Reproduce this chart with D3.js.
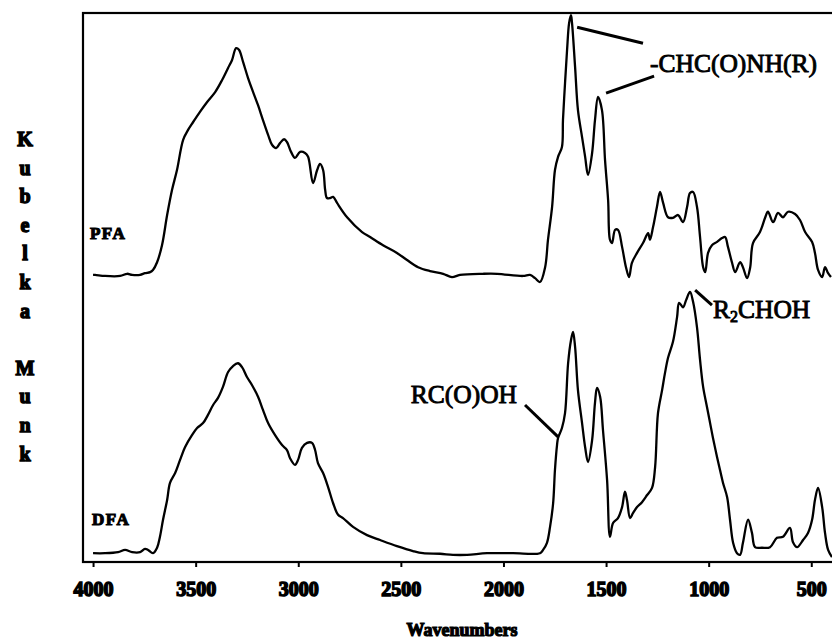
<!DOCTYPE html>
<html>
<head>
<meta charset="utf-8">
<script src="https://cdn.jsdelivr.net/npm/d3@7"></script>
<style>
  body { margin: 0; background: #fff; }
  svg { display: block; }
  .tick text { font-family: "Liberation Serif", serif; font-weight: bold; }
</style>
</head>
<body>
<div id="chart"></div>
<script>
// wavenumber (cm-1), Kubelka-Munk units (arbitrary, 0-100 of the frame)
var pfa = [
  [4000,52.3],[3990,52.3],[3942,52.1],[3868,52.1],[3834,52.5],[3810,52.3],[3771,52.3],[3747,52.6],[3722,52.8],
  [3708,53.2],[3688,54.6],[3664,57.7],[3639,63.2],[3615,67.8],[3591,71.4],[3561,76.9],[3537,78.7],
  [3513,80.1],[3479,82.0],[3444,83.8],[3405,85.6],[3371,87.8],[3342,90.0],[3323,91.4],[3303,93.6],
  [3289,93.3],[3269,91.1],[3245,88.2],[3220,85.6],[3196,83.2],[3172,80.5],[3147,77.8],[3128,76.0],
  [3108,75.4],[3089,76.3],[3069,77.0],[3055,76.5],[3035,74.7],[3016,73.6],[2991,74.7],[2967,74.5],
  [2952,73.8],[2928,69.0],[2908,71.4],[2894,72.5],[2879,71.4],[2869,67.8],[2860,66.3],[2845,66.3],
  [2830,66.5],[2811,65.4],[2762,62.8],[2689,60.1],[2650,59.2],[2587,57.7],[2519,56.3],[2470,55.0],
  [2416,53.7],[2358,53.0],[2294,52.5],[2251,51.9],[2212,52.3],[2100,52.5],[2031,52.5],[1905,52.1],
  [1871,52.3],[1846,51.7],[1822,51.0],[1797,53.7],[1783,58.7],[1763,64.7],[1749,71.4],[1734,73.8],
  [1715,75.6],[1710,80.5],[1700,87.2],[1690,93.3],[1680,98.2],[1671,99.6],[1666,98.2],[1651,90.2],
  [1637,82.3],[1617,77.4],[1602,73.8],[1588,70.5],[1568,74.5],[1554,80.5],[1539,84.7],[1520,82.3],
  [1505,73.2],[1490,65.9],[1481,58.7],[1471,58.1],[1456,60.5],[1442,60.5],[1422,57.4],[1403,53.7],
  [1388,51.9],[1374,54.5],[1349,56.3],[1320,58.1],[1295,59.9],[1286,58.7],[1271,61.0],[1252,64.7],
  [1237,67.4],[1222,65.4],[1198,62.8],[1174,62.7],[1149,63.2],[1125,61.9],[1105,64.7],[1091,67.2],
  [1076,67.4],[1057,64.7],[1042,59.2],[1027,53.7],[1017,52.8],[1003,56.3],[984,57.7],[959,58.3],
  [935,59.0],[920,59.2],[906,57.4],[886,54.5],[871,52.8],[847,54.6],[833,53.7],[813,51.7],
  [798,53.6],[784,58.1],[750,60.1],[725,62.7],[711,63.8],[686,61.9],[662,63.6],[638,62.8],
  [613,63.8],[579,63.4],[555,62.3],[530,60.1],[496,58.3],[482,56.3],[467,53.2],[447,51.9],
  [433,53.7],[418,52.6],[404,51.9]
];

var dfa = [
  [4000,1.6],[3942,1.6],[3878,1.8],[3844,2.2],[3810,1.8],[3771,1.8],[3747,2.4],[3732,2.2],
  [3708,1.6],[3688,2.6],[3674,4.6],[3659,7.7],[3639,11.3],[3625,14.4],[3600,16.2],[3576,18.6],
  [3552,20.9],[3518,23.1],[3493,24.4],[3464,25.3],[3440,26.8],[3415,28.6],[3391,29.9],[3367,31.9],
  [3342,34.6],[3318,35.7],[3294,36.2],[3274,35.5],[3250,33.7],[3225,32.2],[3196,30.1],[3172,27.7],
  [3147,25.3],[3113,23.1],[3079,21.3],[3055,20.4],[3040,18.9],[3016,17.7],[3001,18.6],[2982,20.8],
  [2957,21.7],[2933,21.7],[2918,20.4],[2904,18.0],[2879,16.2],[2855,13.7],[2830,10.7],[2806,8.6],
  [2782,8.0],[2733,6.4],[2665,4.9],[2601,4.0],[2519,2.9],[2441,2.0],[2392,1.6],[2309,1.5],
  [2246,1.3],[2177,1.3],[2080,1.6],[1953,1.6],[1822,1.6],[1807,2.2],[1788,3.5],[1773,6.4],
  [1758,10.7],[1749,16.8],[1739,21.3],[1734,22.6],[1715,24.4],[1700,27.1],[1685,36.2],[1671,40.4],
  [1661,41.9],[1651,39.2],[1637,31.3],[1617,25.3],[1602,20.9],[1588,18.2],[1568,22.2],[1554,29.0],
  [1544,31.7],[1529,30.1],[1515,24.0],[1495,14.9],[1481,4.6],[1466,7.1],[1442,8.0],[1422,10.0],
  [1408,12.8],[1398,11.3],[1383,8.0],[1369,8.9],[1349,10.0],[1325,10.9],[1300,12.2],[1276,13.5],
  [1261,17.3],[1247,27.1],[1227,31.3],[1213,34.4],[1198,37.2],[1174,40.1],[1154,44.6],[1144,47.2],
  [1125,46.4],[1110,47.7],[1091,49.2],[1076,47.4],[1057,42.8],[1042,36.8],[1027,31.9],[1008,28.2],
  [993,25.3],[979,22.6],[959,19.1],[945,16.8],[930,14.4],[910,11.8],[896,7.7],[881,3.5],
  [862,1.6],[847,1.3],[833,3.5],[808,7.7],[789,5.3],[774,2.7],[740,2.6],[701,2.7],
  [667,4.4],[638,4.6],[604,6.2],[589,3.6],[569,2.7],[540,4.0],[516,5.3],[496,7.7],
  [482,11.3],[467,13.5],[447,10.0],[433,5.3],[418,2.2],[399,0.9]
];

var xTicks = [4000, 3500, 3000, 2500, 2000, 1500, 1000, 500];
var yLetters = ["K", "u", "b", "e", "l", "k", "a", "", "M", "u", "n", "k"];

// sample labels [text, wavenumber, value]
var seriesLabels = [["PFA", 4015, 58.8], ["DFA", 4005, 6.7]];
// leader lines [w1, v1, w2, v2]
var leaders = [
  [1641, 97.4, 1320, 94.5],
  [1500, 85.4, 1266, 88.5],
  [1066, 49.5, 984, 46.8],
  [1895, 28.6, 1734, 22.8]
];

var margin = {top: 13, right: 0, bottom: 82, left: 83},
    width = 751,
    height = 549;

var x = d3.scaleLinear().domain([4049, 399]).range([0, 749]);
var y = d3.scaleLinear().domain([0, 100]).range([height, 0]);

var svg = d3.select("#chart")
    .append("svg")
    .attr("width", 832)
    .attr("height", 644)
    .append("g")
    .attr("transform", "translate(" + margin.left + "," + margin.top + ")");

// frame
svg.append("rect")
    .attr("x", 0).attr("y", 0)
    .attr("width", width).attr("height", height)
    .attr("fill", "none")
    .attr("stroke", "#000")
    .attr("stroke-width", 2.2);

var xAxis = d3.axisBottom(x)
    .tickValues(xTicks)
    .tickSize(5)
    .tickPadding(15)
    .tickFormat(d3.format("d"));

var gx = svg.append("g")
    .attr("class", "x axis")
    .attr("transform", "translate(0," + height + ")")
    .call(xAxis);
gx.select(".domain").remove();
gx.selectAll(".tick line").attr("stroke", "#000").attr("stroke-width", 2);
gx.selectAll(".tick text")
    .attr("font-size", 20)
    .attr("fill", "#000")
    .attr("stroke", "#000")
    .attr("stroke-width", 1.5);

svg.append("text")
    .attr("x", 462 - margin.left)
    .attr("y", 636 - margin.top)
    .attr("text-anchor", "middle")
    .attr("font-family", "Liberation Serif, serif")
    .attr("font-weight", "bold")
    .attr("font-size", 18)
    .attr("stroke", "#000")
    .attr("stroke-width", 1.2)
    .text("Wavenumbers");

// stacked y label
svg.append("g")
    .selectAll("text")
    .data(yLetters)
    .enter().append("text")
    .attr("x", 25 - margin.left)
    .attr("y", function(d, i) { return 146 - margin.top + i * 28.6; })
    .attr("text-anchor", "middle")
    .attr("font-family", "Liberation Serif, serif")
    .attr("font-weight", "bold")
    .attr("font-size", 20)
    .attr("stroke", "#000")
    .attr("stroke-width", 1.4)
    .text(function(d) { return d; });

var line = d3.line()
    .x(function(d) { return x(d[0]); })
    .y(function(d) { return y(d[1]); })
    .curve(d3.curveCatmullRom.alpha(0.5));

[pfa, dfa].forEach(function(s) {
  svg.append("path")
      .datum(s)
      .attr("fill", "none")
      .attr("stroke", "#000")
      .attr("stroke-width", 2.3)
      .attr("stroke-linejoin", "round")
      .attr("d", line);
});

svg.selectAll(".slabel")
    .data(seriesLabels)
    .enter().append("text")
    .attr("class", "slabel")
    .attr("x", function(d) { return x(d[1]); })
    .attr("y", function(d) { return y(d[2]); })
    .attr("font-family", "Liberation Serif, serif")
    .attr("font-weight", "bold")
    .attr("font-size", 17)
    .attr("letter-spacing", 1.5)
    .attr("stroke", "#000")
    .attr("stroke-width", 1.1)
    .text(function(d) { return d[0]; });

svg.selectAll(".leader")
    .data(leaders)
    .enter().append("line")
    .attr("class", "leader")
    .attr("x1", function(d) { return x(d[0]); })
    .attr("y1", function(d) { return y(d[1]); })
    .attr("x2", function(d) { return x(d[2]); })
    .attr("y2", function(d) { return y(d[3]); })
    .attr("stroke", "#000")
    .attr("stroke-width", 3);

function note(w, v, anchor) {
  return svg.append("text")
      .attr("x", x(w))
      .attr("y", y(v))
      .attr("text-anchor", anchor)
      .attr("font-family", "Liberation Serif, serif")
      .attr("font-size", 25.5)
      .attr("stroke", "#000")
      .attr("stroke-width", 0.9);
}

note(1286, 89.3, "start").text("-CHC(O)NH(R)");
var r2 = note(979, 44.4, "start");
r2.append("tspan").text("R");
r2.append("tspan").attr("font-size", 16).attr("dy", 4).text("2");
r2.append("tspan").attr("dy", -4).text("CHOH");
note(1934, 29.0, "end").text("RC(O)OH");
</script>
</body>
</html>
